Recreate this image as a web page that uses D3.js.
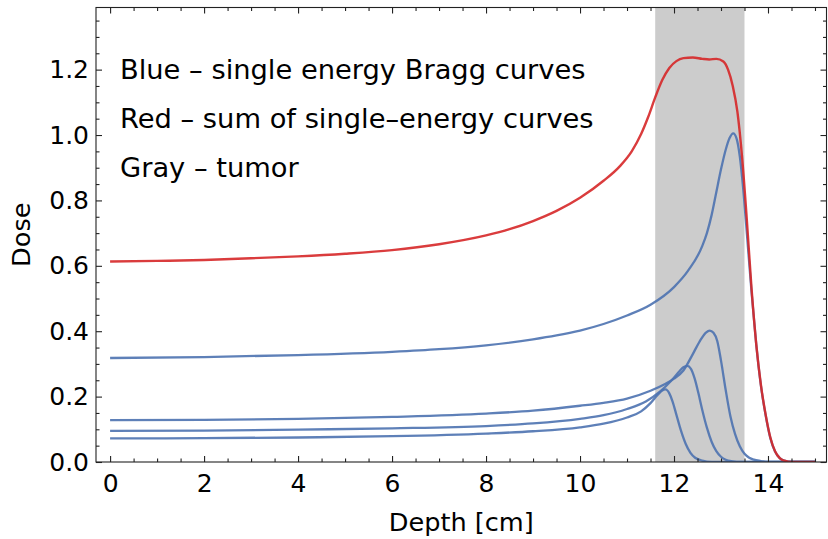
<!DOCTYPE html>
<html>
<head>
<meta charset="utf-8">
<script src="https://cdn.jsdelivr.net/npm/d3@7"></script>
<style>
  html, body { margin: 0; padding: 0; background: #fff; }
  svg { display: block; font-family: "DejaVu Sans", sans-serif; }
</style>
</head>
<body>
<svg id="chart" width="828" height="539"></svg>
<script>
// ---- data ----
const xTicks = [0, 2, 4, 6, 8, 10, 12, 14];
const yTicks = [0.0, 0.2, 0.4, 0.6, 0.8, 1.0, 1.2];
const tumorRange = [11.6, 13.5];
const notes = ["Blue \u2013 single energy Bragg curves", "Red \u2013 sum of single\u2013energy curves", "Gray \u2013 tumor"];

const redX = [0, 1, 2, 3, 4, 5, 6, 7, 8, 8.5, 9, 9.5, 10, 10.5, 10.85, 11.1, 11.3, 11.45, 11.6, 11.75, 11.9, 12.05, 12.2, 12.4, 12.6, 12.75, 12.9, 13.05, 13.15, 13.25, 13.35, 13.45, 13.55, 13.65, 13.75, 13.85, 13.95, 14.05, 14.15, 14.25, 14.35, 14.5, 15.0];
const redY = [0.613, 0.615, 0.618, 0.623, 0.629, 0.637, 0.648, 0.666, 0.693, 0.712, 0.737, 0.768, 0.808, 0.860, 0.905, 0.950, 1.003, 1.055, 1.115, 1.168, 1.205, 1.226, 1.235, 1.237, 1.233, 1.231, 1.233, 1.225, 1.200, 1.150, 1.070, 0.930, 0.740, 0.530, 0.360, 0.235, 0.145, 0.075, 0.033, 0.012, 0.004, 0.0, 0.0];

const blue1X = [0, 2, 4, 6, 7, 8, 9, 9.5, 10, 10.5, 11, 11.5, 12, 12.3, 12.6, 12.7, 12.8, 12.9, 13.0, 13.1, 13.18, 13.26, 13.33, 13.4, 13.47, 13.55, 13.65, 13.75, 13.85, 13.95, 14.05, 14.15, 14.25, 14.35, 14.5, 15.0];
const blue1Y = [0.318, 0.321, 0.327, 0.337, 0.345, 0.357, 0.375, 0.387, 0.402, 0.422, 0.448, 0.481, 0.535, 0.585, 0.660, 0.700, 0.755, 0.825, 0.895, 0.955, 0.990, 1.005, 0.990, 0.935, 0.840, 0.700, 0.520, 0.360, 0.233, 0.143, 0.073, 0.032, 0.012, 0.004, 0.0, 0.0];

const blue2X = [0, 2, 4, 6, 8, 9, 10, 10.5, 11, 11.5, 11.8, 12.0, 12.2, 12.4, 12.55, 12.68, 12.76, 12.84, 12.92, 13.0, 13.1, 13.2, 13.3, 13.4, 13.5, 13.6, 13.7, 13.85, 14.0, 15.0];
const blue2Y = [0.128, 0.129, 0.132, 0.138, 0.148, 0.157, 0.172, 0.181, 0.194, 0.218, 0.238, 0.255, 0.280, 0.330, 0.370, 0.396, 0.402, 0.395, 0.370, 0.310, 0.220, 0.140, 0.085, 0.048, 0.025, 0.013, 0.007, 0.003, 0.0, 0.0];

const blue3X = [0, 2, 4, 6, 8, 9, 10, 10.5, 11, 11.4, 11.7, 11.95, 12.1, 12.2, 12.28, 12.36, 12.44, 12.52, 12.6, 12.7, 12.8, 12.9, 13.0, 13.1, 13.25, 13.4, 15.0];
const blue3Y = [0.095, 0.096, 0.099, 0.103, 0.110, 0.118, 0.132, 0.143, 0.162, 0.185, 0.215, 0.250, 0.275, 0.290, 0.294, 0.285, 0.255, 0.210, 0.160, 0.105, 0.062, 0.033, 0.016, 0.007, 0.002, 0.0, 0.0];

const blue4X = [0, 2, 4, 6, 8, 9, 10, 10.5, 11, 11.3, 11.5, 11.65, 11.75, 11.82, 11.9, 11.97, 12.05, 12.15, 12.25, 12.35, 12.45, 12.6, 12.8, 15.0];
const blue4Y = [0.072, 0.073, 0.075, 0.079, 0.087, 0.094, 0.106, 0.117, 0.136, 0.155, 0.180, 0.205, 0.219, 0.222, 0.210, 0.185, 0.145, 0.095, 0.055, 0.028, 0.013, 0.004, 0.0, 0.0];

const blueSeries = [[blue1X, blue1Y], [blue2X, blue2Y], [blue3X, blue3Y], [blue4X, blue4Y]];

// ---- layout ----
const svg = d3.select("#chart");
const L = 96, R = 826.5, T = 7.5, B = 462;
const x = d3.scaleLinear().domain([-0.3, 15.245]).range([L, R]);
const y = d3.scaleLinear().domain([0, 1.39]).range([B, T]);

svg.append("clipPath").attr("id", "plotclip").append("rect")
  .attr("x", L).attr("y", T).attr("width", R - L).attr("height", B - T);
const plot = svg.append("g").attr("clip-path", "url(#plotclip)");

// tumor span
plot.append("rect")
  .attr("x", x(tumorRange[0])).attr("y", T)
  .attr("width", x(tumorRange[1]) - x(tumorRange[0])).attr("height", B - T)
  .attr("fill", "#cccccc");

const line = d3.line().x(d => x(d[0])).y(d => y(d[1])).curve(d3.curveMonotoneX);
const zipXY = (xs, ys) => xs.map((v, i) => [v, ys[i]]);

blueSeries.forEach(([xs, ys]) => {
  plot.append("path").datum(zipXY(xs, ys))
    .attr("d", line).attr("fill", "none")
    .attr("stroke", "#4c72b0").attr("stroke-opacity", 0.9)
    .attr("stroke-width", 2.3).attr("stroke-linejoin", "round");
});
plot.append("path").datum(zipXY(redX, redY))
  .attr("d", line).attr("fill", "none")
  .attr("stroke", "#d62728").attr("stroke-opacity", 0.9)
  .attr("stroke-width", 2.4).attr("stroke-linejoin", "round");

// ---- axes ----
const fs = 25;
const xMinor = d3.range(0, 15.01, 0.5).filter(v => !xTicks.includes(v));
const yMinor = d3.range(0, 1.39, 0.05).map(v => +v.toFixed(2)).filter(v => !yTicks.some(t => Math.abs(t - v) < 1e-6));

function styleAxis(g) {
  g.select(".domain").remove();
  g.selectAll("line").attr("stroke", "#222").attr("stroke-width", 1.1);
  g.selectAll("text").attr("fill", "#000").style("font-size", fs + "px").style("font-family", "DejaVu Sans, sans-serif");
}

svg.append("g").attr("transform", `translate(0,${B})`)
  .call(d3.axisBottom(x).tickValues(xTicks).tickFormat(d3.format("d")).tickSizeInner(-6).tickSizeOuter(0).tickPadding(12))
  .call(styleAxis);
svg.append("g").attr("transform", `translate(0,${B})`)
  .call(d3.axisBottom(x).tickValues(xMinor).tickFormat("").tickSizeInner(-3.5).tickSizeOuter(0))
  .call(styleAxis);
svg.append("g").attr("transform", `translate(0,${T})`)
  .call(d3.axisTop(x).tickValues(xTicks).tickFormat("").tickSizeInner(-6).tickSizeOuter(0))
  .call(styleAxis);
svg.append("g").attr("transform", `translate(0,${T})`)
  .call(d3.axisTop(x).tickValues(xMinor).tickFormat("").tickSizeInner(-3.5).tickSizeOuter(0))
  .call(styleAxis);
svg.append("g").attr("transform", `translate(${L},0)`)
  .call(d3.axisLeft(y).tickValues(yTicks).tickFormat(d3.format(".1f")).tickSizeInner(-6).tickSizeOuter(0).tickPadding(7))
  .call(styleAxis);
svg.append("g").attr("transform", `translate(${L},0)`)
  .call(d3.axisLeft(y).tickValues(yMinor).tickFormat("").tickSizeInner(-3.5).tickSizeOuter(0))
  .call(styleAxis);
svg.append("g").attr("transform", `translate(${R},0)`)
  .call(d3.axisRight(y).tickValues(yTicks).tickFormat("").tickSizeInner(-6).tickSizeOuter(0))
  .call(styleAxis);
svg.append("g").attr("transform", `translate(${R},0)`)
  .call(d3.axisRight(y).tickValues(yMinor).tickFormat("").tickSizeInner(-3.5).tickSizeOuter(0))
  .call(styleAxis);

svg.append("rect").attr("x", L).attr("y", T).attr("width", R - L).attr("height", B - T)
  .attr("fill", "none").attr("stroke", "#222").attr("stroke-width", 1.1);

// axis labels
svg.append("text").attr("x", (L + R) / 2).attr("y", 531)
  .attr("text-anchor", "middle").style("font-size", "25.6px").text("Depth [cm]");
svg.append("text").attr("transform", `translate(30,${(T + B) / 2}) rotate(-90)`)
  .attr("text-anchor", "middle").style("font-size", "25.6px").text("Dose");

// notes
notes.forEach((t, i) => {
  svg.append("text").attr("x", 120).attr("y", 79 + i * 49)
    .style("font-size", "27.3px").attr("fill", "#000").text(t);
});
</script>
</body>
</html>
